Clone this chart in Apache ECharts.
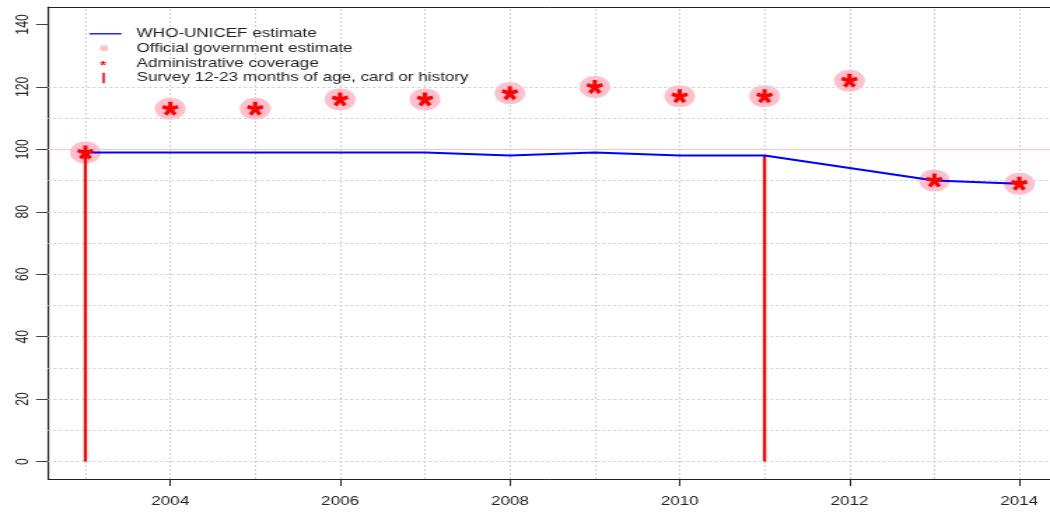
<!DOCTYPE html>
<html>
<head>
<meta charset="utf-8">
<script src="https://cdn.jsdelivr.net/npm/echarts@6/dist/echarts.min.js"></script>
<style>
  html, body { margin: 0; padding: 0; overflow: hidden; background: #fff; }
  /* the reference is a plot stretched sideways, so draw narrow and widen it */
  #chart { width: 750px; height: 513px; transform: scaleX(1.4); transform-origin: 0 0; }
</style>
</head>
<body>
<div id="chart"></div>
<script>
const years = [2003, 2004, 2005, 2006, 2007, 2008, 2009, 2010, 2011, 2012, 2013, 2014];
const whoUnicef = [99, 99, 99, 99, 99, 98, 99, 98, 98, 94, 90, 89];
const official = [99, 113, 113, 116, 116, 118, 120, 117, 117, 122, 90, 89];
const administrative = [99, 113, 113, 116, 116, 118, 120, 117, 117, 122, 90, 89];
const surveyYears = [2003, 2011];
const surveyValues = [99, 98];
const xTickYears = [2004, 2006, 2008, 2010, 2012, 2014];
const yTickValues = [0, 20, 40, 60, 80, 100, 120, 140];
const gridYears = [2003, 2004, 2005, 2006, 2007, 2008, 2009, 2010, 2011, 2012, 2013, 2014];
const gridLevels = [0, 10, 20, 30, 40, 50, 60, 70, 80, 90, 100, 110, 120];
const refLevel = 100;

const FONT = "'Liberation Sans', Arial, sans-serif";
const X_MIN = 2002.56, X_MAX = 2014.362;   // plot box runs off the right edge

// five-armed asterisk, like the '*' glyph
function asterisk() {
  const r = 10, hw = 2.6;
  let d = '';
  [90, 18, 162, -54, 234].forEach((a) => {
    const t = a * Math.PI / 180;
    const dx = Math.cos(t), dy = -Math.sin(t);
    const px = -dy * hw, py = dx * hw;
    const bx = -dx * hw * 0.6, by = -dy * hw * 0.6;
    const pts = [
      [bx + px, by + py], [dx * r + px, dy * r + py],
      [dx * r - px, dy * r - py], [bx - px, by - py],
    ];
    d += 'M' + pts.map((p) => p[0].toFixed(2) + ',' + p[1].toFixed(2)).join('L') + 'Z';
  });
  return 'path://' + d;
}
const STAR = asterisk();

const pair = (xs, ys) => xs.map((x, i) => [x, ys[i]]);

function legendRow(name, icon, color, w, h, cx, cy, textX) {
  const left = cx - w / 2;
  return {
    data: [{ name, icon, itemStyle: { color, borderWidth: 0 } }],
    left, top: cy - 7, padding: 0,
    itemWidth: w, itemHeight: h,
    selectedMode: false,
    textStyle: {
      fontFamily: FONT, fontSize: 12.2, color: '#222', lineHeight: 14,
      padding: [0, 0, 0, textX - (left + w + 5)],
    },
  };
}

const chart = echarts.init(document.getElementById('chart'));
chart.setOption({
  animation: false,
  grid: { left: 34.3, top: 7, right: 0, bottom: 34 },
  legend: [
    legendRow('WHO-UNICEF estimate', 'rect', '#0000ff', 23, 1.3, 75.3, 33.8, 97.6),
    legendRow('Official government estimate', 'circle', '#ffc0cb', 6, 6, 74.4, 48.3, 97.6),
    legendRow('Administrative coverage', STAR, '#ff0000', 4.5, 5.5, 73.6, 63.2, 97.6),
    legendRow('Survey 12-23 months of age, card or history', 'rect', '#ff0000', 1.6, 10.7, 74, 78, 97.6),
  ],
  xAxis: [
    {
      type: 'value', min: X_MIN, max: X_MAX, position: 'bottom',
      axisLine: { show: true, onZero: false, lineStyle: { color: '#222', width: 1 } },
      splitLine: { show: false },
      axisTick: { customValues: xTickYears, length: 7, lineStyle: { color: '#222' } },
      axisLabel: {
        customValues: xTickYears, margin: 17,
        formatter: (v) => String(v),
        fontFamily: FONT, fontSize: 12.2, color: '#222',
      },
    },
    {
      // top edge of the box
      type: 'value', min: X_MIN, max: X_MAX, position: 'top',
      axisLine: { show: true, onZero: false, lineStyle: { color: '#222', width: 1 } },
      axisTick: { show: false }, axisLabel: { show: false }, splitLine: { show: false },
    },
  ],
  yAxis: {
    type: 'value', min: -5.6, max: 145.6,
    axisLine: { show: true, onZero: false, lineStyle: { color: '#222', width: 1.2 } },
    splitLine: { show: false },
    axisTick: { customValues: yTickValues, length: 8.5, lineStyle: { color: '#444' } },
    axisLabel: {
      customValues: yTickValues, rotate: 90, margin: 12,
      fontFamily: FONT, fontSize: 12.2, color: '#222',
    },
  },
  series: [
    {
      // dotted grid plus the pink reference line
      type: 'line', data: [], silent: true, z: 1,
      markLine: {
        silent: true, z: 1, symbol: ['none', 'none'], label: { show: false },
        lineStyle: { type: [2, 2], color: '#cfcfcf', width: 1 },
        data: [
          ...gridYears.map((y) => ({ xAxis: y })),
          ...gridLevels.map((v) => ({ yAxis: v })),
          { yAxis: refLevel, lineStyle: { type: 'solid', color: '#ffc0cb', width: 1 } },
        ],
      },
    },
    {
      name: 'Official government estimate',
      type: 'scatter', z: 2,
      symbol: 'circle', symbolSize: 22,
      itemStyle: { color: '#ffc0cb', opacity: 1 },
      data: pair(years, official),
    },
    {
      name: 'Survey 12-23 months of age, card or history',
      type: 'bar', z: 3, barWidth: 2.3,
      itemStyle: { color: '#ff0000' },
      data: pair(surveyYears, surveyValues),
    },
    {
      name: 'WHO-UNICEF estimate',
      type: 'line', z: 4,
      symbol: 'none',
      lineStyle: { color: '#0000ff', width: 2 },
      itemStyle: { color: '#0000ff' },
      data: pair(years, whoUnicef),
    },
    {
      name: 'Administrative coverage',
      type: 'scatter', z: 5,
      symbol: STAR, symbolSize: [12, 14],
      itemStyle: { color: '#ff0000', opacity: 1 },
      data: pair(years, administrative),
    },
  ],
});
window.addEventListener('resize', () => { chart.resize(); });
</script>
</body>
</html>
